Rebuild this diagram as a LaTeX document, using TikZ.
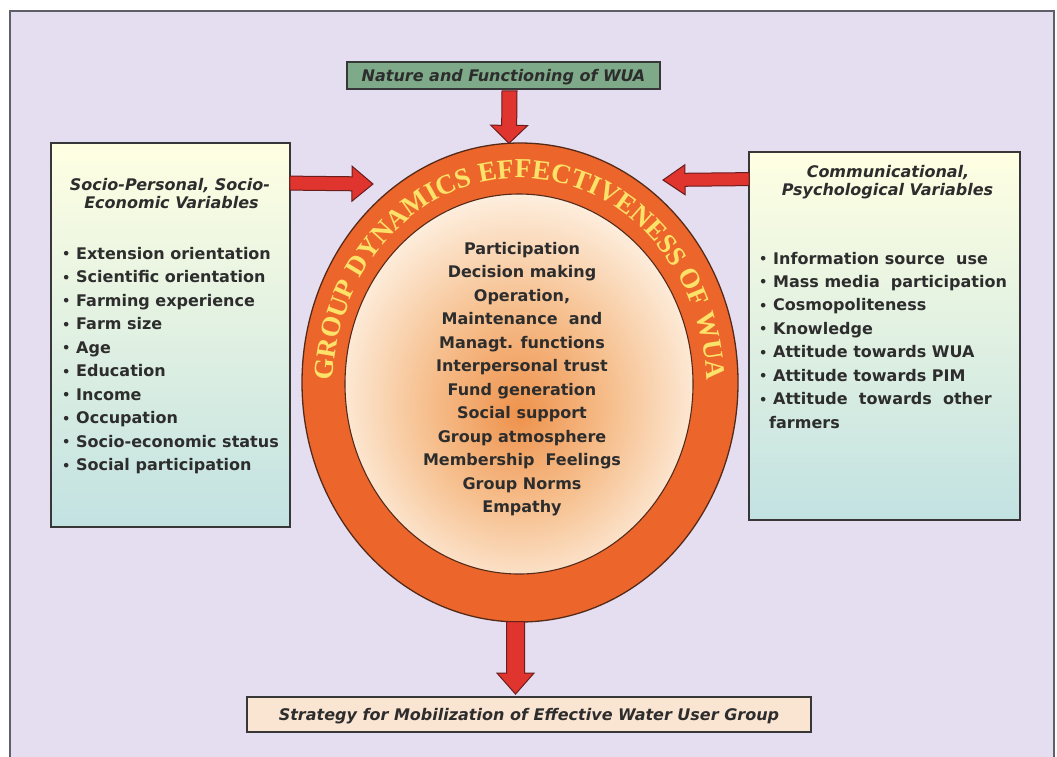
\documentclass[tikz,border=0pt]{standalone}
\usepackage{fontspec}
\setmainfont{DejaVu Sans}
\newfontfamily\ringfont{Liberation Serif}
\usetikzlibrary{shapes.geometric,calc,decorations.text}

\definecolor{lavender}{RGB}{229,221,240}
\definecolor{framegray}{RGB}{95,95,105}
\definecolor{boxtop}{RGB}{255,255,226}
\definecolor{boxbot}{RGB}{194,226,226}
\definecolor{boxline}{RGB}{55,55,55}
\definecolor{sage}{RGB}{126,170,138}
\definecolor{peach}{RGB}{250,229,210}
\definecolor{arrowred}{RGB}{224,52,46}
\definecolor{arrowline}{RGB}{105,30,30}
\definecolor{ringor}{RGB}{236,102,44}
\definecolor{ringline}{RGB}{85,42,25}
\definecolor{glowin}{RGB}{238,146,76}
\definecolor{glowmid}{RGB}{246,190,140}
\definecolor{glowout}{RGB}{255,249,240}
\definecolor{inktext}{RGB}{45,45,45}
\definecolor{ringtext}{RGB}{252,226,104}

\pgfdeclareradialshading{glow}{\pgfpoint{0bp}{-4bp}}{%
  color(0bp)=(glowin); color(13bp)=(glowmid); color(30bp)=(glowout); color(50bp)=(glowout)}

\newcommand\bul{\makebox[14pt][l]{\raisebox{0.5pt}{\fontsize{13pt}{13pt}\selectfont •}}}
\newcommand\ringstyle{\ringfont\bfseries\fontsize{27.5pt}{27.5pt}\selectfont\color{ringtext}}

\tikzset{
  body/.style={font=\bfseries\fontsize{16pt}{19pt}\selectfont, text=inktext, inner sep=0pt},
  heading/.style={font=\bfseries\itshape\fontsize{16pt}{19pt}\selectfont, text=inktext, inner sep=0pt},
  sidebox/.style={draw=boxline, line width=1.8pt, top color=boxtop, bottom color=boxbot, inner sep=0pt},
  flatbox/.style={draw=boxline, line width=1.8pt, inner sep=0pt},
  blk shaft/.store in=\blkshaft, blk head/.store in=\blkhead, blk len/.store in=\blklen,
  blk shaft=7pt, blk head=18pt, blk len=20pt,
  blockarrow/.style={fill=arrowred, draw=arrowline, line width=1pt, line join=miter,
    to path={
      ($(\tikztotarget)!\blklen!(\tikztostart)$) coordinate (bh)
      ($(\tikztostart)!\blkshaft!90:(\tikztotarget)$)
      -- ($(bh)!\blkshaft!-90:(\tikztostart)$)
      -- ($(bh)!\blkhead!-90:(\tikztostart)$)
      -- (\tikztotarget)
      -- ($(bh)!\blkhead!90:(\tikztostart)$)
      -- ($(bh)!\blkshaft!90:(\tikztostart)$)
      -- ($(\tikztostart)!\blkshaft!-90:(\tikztotarget)$)
      -- cycle}}
}

\begin{document}
\begin{tikzpicture}[x=1pt,y=-1pt]
\useasboundingbox (0,0) rectangle (1057,756);
\fill[white] (0,0) rectangle (1057,756);
% lavender panel
\draw[framegray, line width=1.6pt, fill=lavender] (10,11) rectangle (1054,775);

% side panels
\node[sidebox, minimum width=239pt, minimum height=384pt] (lbox) at (170.5,335) {};
\node[sidebox, minimum width=271pt, minimum height=368pt] (rbox) at (884.5,336) {};

% top and bottom boxes
\node[flatbox, fill=sage, minimum width=313pt, minimum height=27pt] (tbox) at (503.5,75.5) {};
\node[heading, anchor=base] (ttext) at (503.5,81) {Nature and Functioning of WUA};
\node[flatbox, fill=peach, minimum width=564pt, minimum height=35pt] (bbox) at (529,714.5) {};
\node[heading, anchor=base] (btext) at (529,720) {Strategy for Mobilization of Effective Water User Group};

% ring and glowing core
\node[ellipse, minimum width=436pt, minimum height=479pt, fill=ringor, draw=ringline, line width=1.3pt, inner sep=0pt] (ring) at (520,382.5) {};
\node[ellipse, minimum width=348pt, minimum height=380pt, shading=glow, draw=ringline, line width=1.1pt, inner sep=0pt] (core) at (519,384) {};
\path[decorate, decoration={text along path, text align=center,
    text={|\ringstyle|GROUP DYNAMICS EFFECTIVENESS OF WUA}}]
  (333,388) arc[start angle=180, end angle=360, x radius=187, y radius=210];

% headings of the side panels
\node[heading, anchor=base] (lh1) at (170,190) {Socio-Personal, Socio-};
\node[heading, anchor=base] (lh2) at (171.5,208) {Economic Variables};
\node[heading, anchor=base] (rh1) at (888,177) {Communicational,};
\node[heading, anchor=base] (rh2) at (887.5,195) {Psychological Variables};

% left list
\foreach \txt [count=\i] in {Extension orientation, Scientific orientation, Farming experience,
    Farm size, Age, Education, Income, Occupation, Socio-economic status, Social participation}
  \node[body, anchor=base west] (ll\i) at (62,{259+23.5*(\i-1)}) {\bul\txt};

% right list
\foreach \txt [count=\i] in {Information source\ \ use, Mass media\ \ participation, Cosmopoliteness,
    Knowledge, Attitude towards WUA, Attitude towards PIM, Attitude\ \ towards\ \ other}
  \node[body, anchor=base west] (rl\i) at (759,{264+23.45*(\i-1)}) {\bul\txt};
\node[body, anchor=base west] (rl8) at (769,428) {farmers};

% centre list
\foreach \txt [count=\i] in {Participation, Decision making, {Operation,}, Maintenance\ \ and,
    Managt. functions, Interpersonal trust, Fund generation, Social support, Group atmosphere,
    Membership\ \ Feelings, Group Norms, Empathy}
  \node[body, anchor=base] (cl\i) at (522,{254+23.5*(\i-1)}) {\txt};

% arrows
\coordinate (ltip) at (373,184);
\coordinate (rtip) at (663,180);
\draw[blockarrow, blk shaft=7pt, blk head=17.5pt, blk len=21pt] ($(lbox.north east)+(-1,41)$) to (ltip);
\draw[blockarrow, blk shaft=6.5pt, blk head=15pt, blk len=22pt] ($(rbox.north west)+(1,28)$) to (rtip);
\draw[blockarrow, blk shaft=7.5pt, blk head=18.5pt, blk len=18pt] ($(tbox.south)+(6,1)$) to ($(ring.north)+(-11,1)$);
\draw[blockarrow, blk shaft=9pt, blk head=18.5pt, blk len=21pt] ($(ring.south)+(-4.5,-1)$) to ($(bbox.north)+(-13.5,-2)$);
\end{tikzpicture}
\end{document}
